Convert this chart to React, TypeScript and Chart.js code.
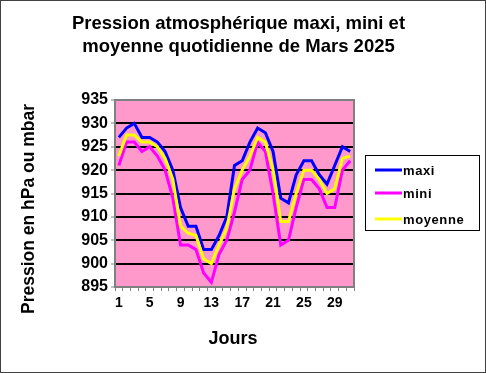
import React, { useEffect, useRef } from "react";
import { Chart, registerables } from "chart.js";

Chart.register(...registerables);

const days = Array.from({ length: 31 }, (_, i) => String(i + 1));
const maxi = [927, 929, 930, 927, 927, 926, 924, 920, 912, 908, 908, 903, 903, 906, 910, 921, 922, 926, 929, 928, 924, 914, 913, 919, 922, 922, 919, 917, 921, 925, 924];
const mini = [921, 926, 926, 924, 925, 923, 920, 914, 904, 904, 903, 898, 896, 902, 905, 911, 918, 920, 926, 924, 915, 904, 905, 912, 918, 918, 916, 912, 912, 920, 922];
const moyenne = [923, 927.5, 927.5, 926, 926, 925, 922.5, 918, 908, 906.5, 906, 901, 900, 904, 907.5, 916, 920, 923, 927, 926, 920, 909, 909, 915, 920, 920, 918, 915, 916, 922.5, 923];
const seriesNames = ["maxi", "mini", "moyenne"];
const seriesColors = ["#0000FF", "#FF00FF", "#FFFF00"];
const titleLines = ["Pression atmosphérique maxi, mini et", "moyenne quotidienne de Mars 2025"];
const yTitle = "Pression en hPa ou mbar";
const xTitle = "Jours";

const FONT = "'Liberation Sans', Arial, sans-serif";

const decorPlugin = {
  id: "decor",
  beforeDraw(chart: any) {
    const { ctx, width, height, chartArea } = chart;
    ctx.save();
    ctx.fillStyle = "#FFFFFF";
    ctx.fillRect(0, 0, width, height);
    ctx.fillStyle = "#FF99CC";
    ctx.fillRect(chartArea.left, chartArea.top, chartArea.right - chartArea.left, chartArea.bottom - chartArea.top);
    ctx.restore();
  },
  afterDraw(chart: any) {
    const { ctx, width, height, chartArea } = chart;
    ctx.save();
    // outer border
    ctx.strokeStyle = "#404040";
    ctx.lineWidth = 1;
    ctx.strokeRect(0.5, 0.5, width - 1, height - 1);
    // plot border
    ctx.strokeStyle = "#808080";
    ctx.lineWidth = 2;
    ctx.strokeRect(chartArea.left, chartArea.top, chartArea.right - chartArea.left, chartArea.bottom - chartArea.top);
    // title
    ctx.fillStyle = "#000000";
    ctx.font = `bold 18.5px ${FONT}`;
    ctx.textAlign = "center";
    ctx.textBaseline = "middle";
    ctx.fillText(titleLines[0], 238.5, 24);
    ctx.fillText(titleLines[1], 238.5, 47);
    // x title
    ctx.font = `bold 18px ${FONT}`;
    ctx.fillText(xTitle, 233, 339);
    // y title
    ctx.save();
    ctx.translate(29, 209);
    ctx.rotate(-Math.PI / 2);
    ctx.font = `bold 17.5px ${FONT}`;
    ctx.fillText(yTitle, 0, 0);
    ctx.restore();
    // legend
    const lx = 365, ly = 155, lw = 114, lh = 75;
    ctx.fillStyle = "#FFFFFF";
    ctx.fillRect(lx, ly, lw, lh);
    ctx.strokeStyle = "#000000";
    ctx.lineWidth = 1;
    ctx.strokeRect(lx + 0.5, ly + 0.5, lw, lh);
    const ys = [170, 193, 219];
    ctx.font = `bold 13px ${FONT}`;
    try { (ctx as any).letterSpacing = "0.6px"; } catch (e) {}
    ctx.textAlign = "left";
    chart.data.datasets.forEach((ds: any, i: number) => {
      ctx.strokeStyle = ds.borderColor;
      ctx.lineWidth = 3;
      ctx.beginPath();
      ctx.moveTo(375, ys[i]);
      ctx.lineTo(402, ys[i]);
      ctx.stroke();
      ctx.fillStyle = "#000000";
      ctx.fillText(ds.label, 403, ys[i] + 1);
    });
    ctx.restore();
  },
};

export default function App() {
  const ref = useRef<HTMLCanvasElement | null>(null);
  useEffect(() => {
    if (!ref.current) return;
    const chart = new Chart(ref.current, {
      type: "line",
      data: {
        labels: days,
        datasets: [
          { label: seriesNames[0], data: maxi, borderColor: seriesColors[0], backgroundColor: seriesColors[0], order: 3 },
          { label: seriesNames[1], data: mini, borderColor: seriesColors[1], backgroundColor: seriesColors[1], order: 2 },
          { label: seriesNames[2], data: moyenne, borderColor: seriesColors[2], backgroundColor: seriesColors[2], order: 1 },
        ],
      },
      options: {
        responsive: false,
        animation: false,
        events: [],
        layout: { padding: { left: 0, right: 132, top: 100, bottom: 56 } },
        elements: {
          line: { borderWidth: 3, tension: 0 },
          point: { radius: 0 },
        },
        plugins: {
          legend: { display: false },
          title: { display: false },
          tooltip: { enabled: false },
        },
        scales: {
          x: {
            type: "category",
            offset: true,
            afterFit: (s: any) => { s.height = 30; },
            grid: { offset: true, drawOnChartArea: false, drawTicks: true, tickLength: 4, color: "#808080", lineWidth: 1 },
            border: { display: true, color: "#808080", width: 2 },
            ticks: {
              autoSkip: false,
              maxRotation: 0,
              padding: 4,
              color: "#000000",
              font: { family: FONT, size: 14, weight: "bold" },
              callback: (_v: any, i: number) => (i % 4 === 0 ? days[i] : ""),
            },
          },
          y: {
            min: 895,
            max: 935,
            afterFit: (s: any) => { s.width = 115; },
            grid: { color: "#000000", lineWidth: 2, drawTicks: true, tickLength: 4, tickColor: "#808080", tickWidth: 1 },
            border: { display: true, color: "#808080", width: 2 },
            ticks: {
              stepSize: 5,
              padding: 3,
              color: "#000000",
              font: { family: FONT, size: 16, weight: "bold" },
            },
          },
        },
      },
      plugins: [decorPlugin],
    } as any);
    return () => chart.destroy();
  }, []);
  return (
    <div style={{ position: "fixed", left: 0, top: 0, width: 486, height: 373 }}>
      <canvas ref={ref} width={486} height={373} style={{ width: 486, height: 373, display: "block" }} />
    </div>
  );
}
